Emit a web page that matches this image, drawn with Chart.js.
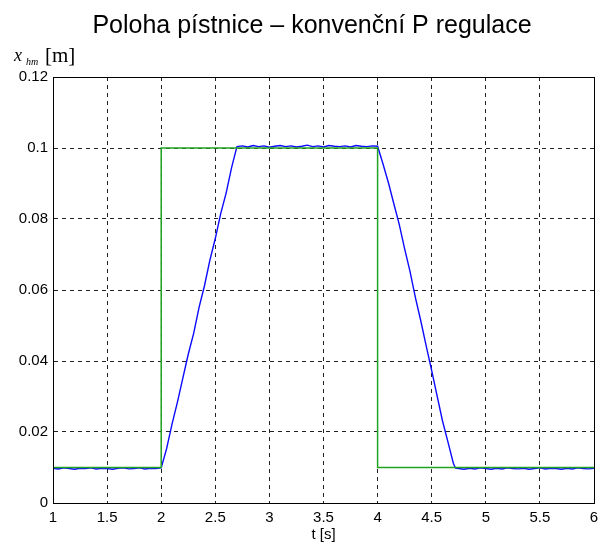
<!DOCTYPE html>
<html>
<head>
<meta charset="utf-8">
<script src="https://cdn.jsdelivr.net/npm/chart.js@4.4.1/dist/chart.umd.min.js"></script>
<style>
    html, body { margin: 0; padding: 0; background: #fff; }
    #wrap { width: 607px; height: 545px; position: relative; }
</style>
</head>
<body>
<div id="wrap"><canvas id="pistonChart"></canvas></div>
<script>
// reference signal w(t)
const refTime = [1, 2, 2, 4, 4, 6];
const refPos = [0.01, 0.01, 0.1, 0.1, 0.01, 0.01];

// measured piston position x_hm(t)
const posTime = [
    1.00, 1.05, 1.10, 1.15, 1.20, 1.25, 1.30, 1.35, 1.40, 1.45, 1.50,
    1.55, 1.60, 1.65, 1.70, 1.75, 1.80, 1.85, 1.90, 1.95, 2.00,
    2.05, 2.10, 2.15, 2.20, 2.25, 2.30, 2.35, 2.40, 2.45, 2.50,
    2.55, 2.60, 2.65, 2.70,
    2.75, 2.80, 2.85, 2.90, 2.95, 3.00, 3.05, 3.10, 3.15, 3.20,
    3.25, 3.30, 3.35, 3.40, 3.45, 3.50, 3.55, 3.60, 3.65, 3.70,
    3.75, 3.80, 3.85, 3.90, 3.95, 4.00,
    4.05, 4.10, 4.15, 4.20, 4.25, 4.30, 4.35, 4.40, 4.45, 4.50,
    4.55, 4.60, 4.65, 4.70, 4.72,
    4.75, 4.80, 4.85, 4.90, 4.95, 5.00, 5.05, 5.10, 5.15, 5.20,
    5.25, 5.30, 5.35, 5.40, 5.45, 5.50, 5.55, 5.60, 5.65, 5.70,
    5.75, 5.80, 5.85, 5.90, 5.95, 6.00
];
const posValue = [
    0.0098, 0.0096, 0.0099, 0.0097, 0.0095, 0.0098, 0.0097, 0.0099, 0.0096, 0.0098, 0.0097,
    0.0095, 0.0098, 0.0099, 0.0096, 0.0097, 0.0099, 0.0096, 0.0098, 0.0097, 0.0099,
    0.0153, 0.0222, 0.0284, 0.0352, 0.0419, 0.0478, 0.0551, 0.0612, 0.0684, 0.0745,
    0.0815, 0.0873, 0.0944, 0.1004,
    0.1006, 0.1003, 0.1007, 0.1004, 0.1006, 0.1002, 0.1005, 0.1007, 0.1004, 0.1006,
    0.1003, 0.1005, 0.1008, 0.1004, 0.1006, 0.1003, 0.1007, 0.1005, 0.1004, 0.1006,
    0.1003, 0.1007, 0.1005, 0.1004, 0.1006, 0.1005,
    0.0955, 0.0902, 0.0843, 0.0785, 0.0716, 0.0652, 0.0578, 0.0512, 0.0441, 0.0373,
    0.0302, 0.0231, 0.0172, 0.0112, 0.0098,
    0.0097, 0.0095, 0.0098, 0.0096, 0.0099, 0.0097, 0.0095, 0.0098, 0.0096, 0.0099,
    0.0097, 0.0096, 0.0098, 0.0095, 0.0097, 0.0099, 0.0096, 0.0098, 0.0097, 0.0095,
    0.0098, 0.0096, 0.0099, 0.0097, 0.0096, 0.0098
];

const xTickLabels = ['1', '1.5', '2', '2.5', '3', '3.5', '4', '4.5', '5', '5.5', '6'];
const yTickLabels = ['0', '0.02', '0.04', '0.06', '0.08', '0.1', '0.12'];

const chartTitle = 'Poloha pístnice – konvenční P regulace';
const xTitle = 't [s]';

function toPoints(xs, ys) {
    return xs.map((x, i) => ({ x: x, y: ys[i] }));
}

// box around the plot + title + y label (x_hm with subscript)
const framePlugin = {
    id: 'frame',
    afterDraw(chart) {
        const ctx = chart.ctx;
        const a = chart.chartArea;
        ctx.save();
        ctx.strokeStyle = '#000';
        ctx.lineWidth = 1;
        ctx.strokeRect(Math.round(a.left) + 0.5, Math.round(a.top) + 0.5,
            Math.round(a.right - a.left), Math.round(a.bottom - a.top));

        ctx.fillStyle = '#000';
        ctx.textBaseline = 'alphabetic';
        ctx.textAlign = 'center';
        ctx.font = '25px "Liberation Sans", Arial, sans-serif';
        ctx.fillText(chartTitle, 312, 33);

        ctx.textAlign = 'left';
        ctx.font = 'italic 18px "Liberation Serif", "Times New Roman", serif';
        ctx.fillText('x', 14, 61);
        ctx.font = 'italic 10px "Liberation Serif", "Times New Roman", serif';
        ctx.fillText('hm', 26, 65);
        ctx.font = '21px "Liberation Serif", "Times New Roman", serif';
        ctx.fillText('[m]', 45, 62);
        ctx.restore();
    }
};

const gridStyle = { color: '#222', lineWidth: 1, drawTicks: false };
const borderStyle = { color: '#000', width: 1, dash: [4, 4] };
const tickFont = { family: '"Liberation Sans", Arial, sans-serif', size: 15 };

new Chart(document.getElementById('pistonChart').getContext('2d'), {
    type: 'line',
    data: {
        datasets: [
            {
                label: 'w',
                data: toPoints(refTime, refPos),
                borderColor: '#22a322',
                borderWidth: 1.5,
                pointRadius: 0,
                tension: 0
            },
            {
                label: 'x_hm',
                data: toPoints(posTime, posValue),
                borderColor: '#0a0aff',
                borderWidth: 1.4,
                pointRadius: 0,
                tension: 0
            }
        ]
    },
    options: {
        responsive: true,
        maintainAspectRatio: false,
        animation: false,
        layout: { padding: { top: 77, right: 13, bottom: 0, left: 0 } },
        plugins: {
            legend: { display: false },
            tooltip: { enabled: false }
        },
        scales: {
            x: {
                type: 'linear',
                min: 1,
                max: 6,
                grid: gridStyle,
                border: borderStyle,
                afterFit: (s) => { s.height = 42; },
                ticks: {
                    stepSize: 0.5,
                    padding: 6,
                    color: '#000',
                    font: tickFont,
                    maxRotation: 0,
                    callback: (v, i) => xTickLabels[i]
                },
                title: {
                    display: true,
                    text: xTitle,
                    color: '#000',
                    font: tickFont,
                    padding: { top: 0, bottom: 1 }
                }
            },
            y: {
                min: 0,
                max: 0.12,
                grid: gridStyle,
                border: borderStyle,
                afterFit: (s) => { s.width = 53; },
                ticks: {
                    stepSize: 0.02,
                    padding: 5,
                    color: '#000',
                    font: tickFont,
                    callback: (v, i) => yTickLabels[i]
                }
            }
        }
    },
    plugins: [framePlugin]
});
</script>
</body>
</html>
